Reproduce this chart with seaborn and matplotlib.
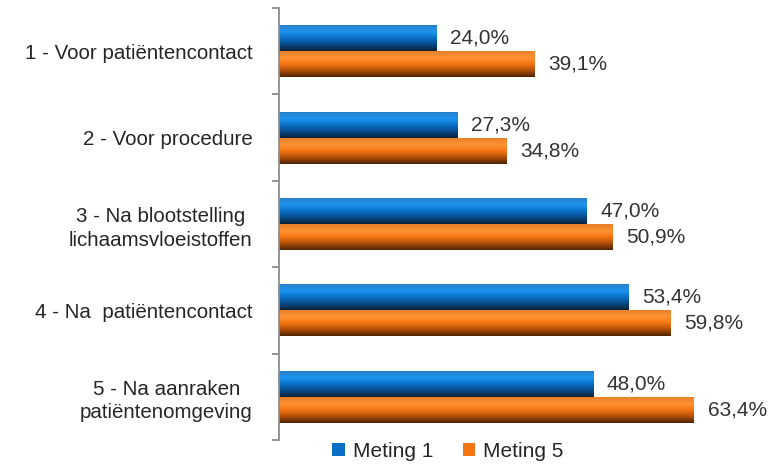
import numpy as np
import pandas as pd
import seaborn as sns
import matplotlib.pyplot as plt
from matplotlib.colors import LinearSegmentedColormap
from matplotlib.patches import Patch

categories = [
    "1 - Voor patiëntencontact",
    "2 - Voor procedure",
    "3 - Na blootstelling\nlichaamsvloeistoffen",
    "4 - Na  patiëntencontact",
    "5 - Na aanraken\npatiëntenomgeving",
]
series = ["Meting 1", "Meting 5"]
meting1 = [24.0, 27.3, 47.0, 53.4, 48.0]
meting5 = [39.1, 34.8, 50.9, 59.8, 63.4]

base_colors = {"Meting 1": "#0a70c6", "Meting 5": "#f47512"}
# light at top -> dark at bottom, like the shaded bars in the original
gradients = {
    "Meting 1": ["#2a80cc", "#1d95f0", "#0a70c6", "#084a8a", "#0b2238"],
    "Meting 5": ["#e8802a", "#ff9333", "#f47512", "#b04e08", "#4e2404"],
}

df = pd.DataFrame({
    "categorie": categories * 2,
    "meting": [series[0]] * 5 + [series[1]] * 5,
    "waarde": meting1 + meting5,
})

plt.rcParams['font.family'] = ['Liberation Sans', 'DejaVu Sans']

fig = plt.figure(figsize=(7.7, 4.65), dpi=100)
ax = fig.add_axes([279 / 770, 1 - 440 / 465, (737 - 279) / 770, 432 / 465])

sns.barplot(data=df, y="categorie", x="waarde", hue="meting", hue_order=series,
            palette=base_colors, orient="h", width=0.6, ax=ax, legend=False,
            errorbar=None, saturation=1)

ax.set_xlim(0, 70)
ax.set_ylim(len(categories) - 0.5, -0.5)

# gradient fill on each bar (top light, bottom dark)
for container, name in zip(ax.containers, series):
    cmap = LinearSegmentedColormap.from_list(name, gradients[name][::-1])
    grad = np.linspace(0, 1, 64).reshape(-1, 1)
    for bar, v in zip(container, df[df.meting == name].waarde):
        x0, y0 = bar.get_x(), bar.get_y()
        w, h = bar.get_width(), bar.get_height()
        im = ax.imshow(grad, cmap=cmap, aspect="auto", interpolation="bicubic",
                       extent=[x0, x0 + w, y0, y0 + h], zorder=bar.get_zorder() + 0.1)
        im.set_clip_path(bar)
        ax.text(x0 + w + 2.1, y0 + h / 2, f"{v:.1f}".replace(".", ",") + "%",
                va="center", ha="left", fontsize=15, color="#333333")

ax.set_xlim(0, 70)
ax.set_ylim(len(categories) - 0.5, -0.5)

for s in ["top", "right", "bottom"]:
    ax.spines[s].set_visible(False)
ax.spines["left"].set_color("#8c8c8c")
ax.spines["left"].set_linewidth(1.3)
ax.set_xticks([])
ax.set_xlabel("")
ax.set_ylabel("")
ax.set_yticks(range(len(categories)))
ax.set_yticklabels(categories, fontsize=14.8, color="#262626", ha="right",
                   multialignment="center", linespacing=1.3)
ax.tick_params(axis="y", length=0, pad=19)
ax.set_yticks(np.arange(-0.5, len(categories), 1), minor=True)
ax.tick_params(axis="y", which="minor", length=5, width=1.3, color="#8c8c8c")
ax.set_facecolor("white")

handles = [Patch(facecolor=base_colors[s], edgecolor="none") for s in series]
fig.legend(handles, series, loc="center", bbox_to_anchor=(448 / 770, 1 - 451 / 465),
           ncol=2, frameon=False, fontsize=15, handlelength=0.6, handleheight=0.6,
           handletextpad=0.4, columnspacing=1.4, labelcolor="#262626")

fig.savefig("out.png", dpi=100)
